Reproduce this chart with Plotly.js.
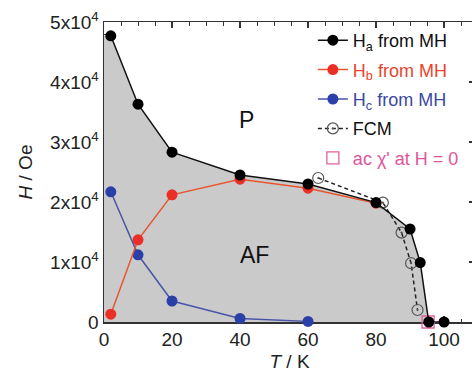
<!DOCTYPE html>
<html>
<head>
<meta charset="utf-8">
<script src="https://cdn.plot.ly/plotly-3.0.1.min.js"></script>
<style>html,body{margin:0;padding:0;overflow:hidden;background:#fff;}#chart{width:475px;height:372px;}</style>
</head>
<body>
<div id="chart"></div>
<script>
// Data
var haT = [2, 10, 20, 40, 60, 80, 90, 93, 95.5, 100];
var haH = [47700, 36300, 28300, 24500, 23000, 19900, 15500, 9900, 0, 0];
var hbT = [2, 10, 20, 40, 60, 80];
var hbH = [1300, 13700, 21200, 23800, 22300, 19800];
var hcT = [2, 10, 20, 40, 60];
var hcH = [21700, 11200, 3500, 600, 100];
var fcmT = [63, 82, 87.5, 90.3, 92.2];
var fcmH = [24000, 19900, 14900, 9800, 2000];
var acT = [95.3];
var acH = [0];
var yTickVals = [0, 10000, 20000, 30000, 40000, 50000];
var yTickText = ['0', '1x10<sup>4</sup>', '2x10<sup>4</sup>', '3x10<sup>4</sup>', '4x10<sup>4</sup>', '5x10<sup>4</sup>'];
var xTickVals = [0, 20, 40, 60, 80, 100];

// AF region boundary built from the H_a curve
var fillT = [0].concat(haT.slice(0, 9)).concat([0]);
var fillH = [haH[0]].concat(haH.slice(0, 9)).concat([0]);

var F = 'Liberation Sans, Arial, Helvetica, sans-serif';
var traces = [
  {x: fillT, y: fillH, mode: 'lines', fill: 'toself', fillcolor: '#cacacb',
   line: {width: 0, color: 'rgba(0,0,0,0)'}, showlegend: false, hoverinfo: 'skip'},
  {x: hcT, y: hcH, mode: 'lines+markers', name: 'H<sub>c</sub> from MH', legendrank: 3, legendgroup: 'c',
   line: {color: '#4a55a8', width: 1.5}, marker: {color: '#2a3fa8', size: 11}, cliponaxis: false},
  {x: hbT, y: hbH, mode: 'lines+markers', name: 'H<sub>b</sub> from MH', legendrank: 2, legendgroup: 'b',
   line: {color: '#e8552e', width: 1.5}, marker: {color: '#ea3026', size: 11}, cliponaxis: false},
  {x: fcmT, y: fcmH, mode: 'lines+markers', name: 'FCM', legendrank: 4, legendgroup: 'f',
   line: {color: '#222', width: 1.5, dash: '4px,3px'},
   marker: {symbol: 'circle-open-dot', color: '#555', size: 11, line: {width: 1.2}}, cliponaxis: false},
  {x: acT, y: acH, mode: 'markers', name: 'ac χ\' at H = 0', legendrank: 5, legendgroup: 'x',
   marker: {symbol: 'square-open', color: '#e0609a', size: 12, line: {width: 1.3}}, cliponaxis: false},
  {x: haT, y: haH, mode: 'lines+markers', name: 'H<sub>a</sub> from MH', legendrank: 1, legendgroup: 'a',
   line: {color: '#111', width: 1.5}, marker: {color: '#000', size: 11}, cliponaxis: false}
];

var axisCommon = {
  showgrid: false, zeroline: false, showline: true, linecolor: '#333', linewidth: 1.5,
  mirror: 'ticks', ticks: 'inside', tickcolor: '#333', tickwidth: 1.3, ticklen: 6,
  layer: 'below traces', tickfont: {family: F, size: 19, color: '#222'}
};

var layout = {
  width: 475, height: 372,
  margin: {l: 104, r: 0, t: 22, b: 50},
  paper_bgcolor: '#fff', plot_bgcolor: '#fff',
  font: {family: F, color: '#222'},
  xaxis: Object.assign({}, axisCommon, {
    range: [0, 109.1], tickvals: xTickVals,
    minor: {dtick: 5, ticks: 'inside', ticklen: 3.5, tickcolor: '#333', tickwidth: 1},
    title: {text: '<i>T</i> / K', font: {family: F, size: 19, color: '#222'}, standoff: 8}
  }),
  yaxis: Object.assign({}, axisCommon, {
    range: [0, 50000], tickvals: yTickVals, ticktext: yTickText,
    minor: {dtick: 2000, ticks: 'inside', ticklen: 3.5, tickcolor: '#333', tickwidth: 1},
    title: {text: '<i>H</i> / Oe', font: {family: F, size: 19, color: '#222'}, standoff: 12}
  }),
  legend: {x: 0.563, y: 1.0, xanchor: 'left', yanchor: 'top', bgcolor: 'rgba(255,255,255,0)',
    font: {family: F, size: 18, color: '#111'}, tracegroupgap: 3},
  annotations: [
    {x: 42, y: 33700, text: 'P', showarrow: false, font: {family: F, size: 23, color: '#111'}},
    {x: 44.4, y: 11200, text: 'AF', showarrow: false, font: {family: F, size: 23, color: '#111'}}
  ],
  showlegend: true
};

Plotly.newPlot('chart', traces, layout, {displayModeBar: false, staticPlot: true}).then(function(){
  var items = document.querySelectorAll('.legend .traces');
  items.forEach(function(g){
    var t = g.querySelector('.legendtext');
    var d = g.__data__ && g.__data__[0] && g.__data__[0].trace;
    if (!t || !d) return;
    var c = d.name.indexOf('<sub>b') >= 0 ? '#e8452e' : d.name.indexOf('<sub>c') >= 0 ? '#3a4aa0' : d.name.indexOf('ac') === 0 ? '#e0559a' : '#111';
    t.style.fill = c;
  });
});
</script>
</body>
</html>
